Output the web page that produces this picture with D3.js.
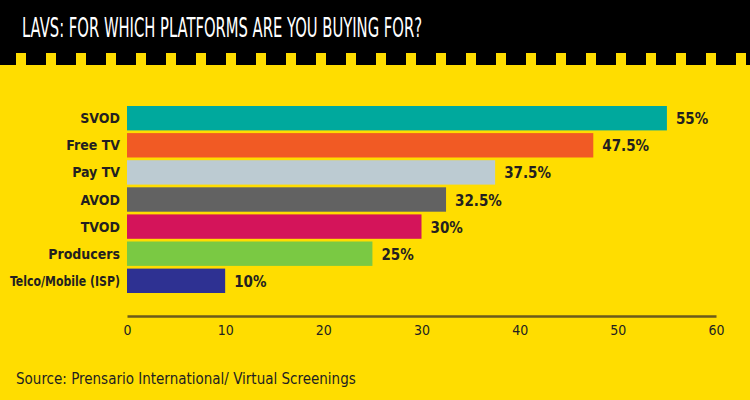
<!DOCTYPE html>
<html><head><meta charset="utf-8">
<script src="https://cdn.jsdelivr.net/npm/d3@7"></script>
<style>body{margin:0;background:#ffdd00}svg{display:block}</style>
</head><body><svg></svg>
<script>
// chart data
const categories = ["SVOD", "Free TV", "Pay TV", "AVOD", "TVOD", "Producers", "Telco/Mobile (ISP)"];
const values = [55, 47.5, 37.5, 32.5, 30, 25, 10];
const colors = ["#00a99d", "#f15a24", "#bccbd2", "#626262", "#d4145a", "#7ac943", "#2e3192"];
const ticks = [0, 10, 20, 30, 40, 50, 60];

const width = 750, height = 400;
const font = "'DejaVu Sans Condensed', 'Liberation Sans Narrow', sans-serif";
const svg = d3.select("svg").attr("width", width).attr("height", height);

// squeeze a text horizontally if it runs wider than max
function fit(sel, max) {
    sel.each(function () {
        if (this.getComputedTextLength() > max) {
            d3.select(this).attr("textLength", max).attr("lengthAdjust", "spacingAndGlyphs");
        }
    });
}

svg.append("rect").attr("width", width).attr("height", height).attr("fill", "#ffdd00");
// header with crenellated edge
svg.append("rect").attr("width", width).attr("height", 65).attr("fill", "#000");
svg.selectAll("rect.tooth")
    .data(d3.range(16, width, 30))
    .enter().append("rect")
    .attr("class", "tooth")
    .attr("x", d => d).attr("y", 53)
    .attr("width", 10).attr("height", 12)
    .attr("fill", "#ffdd00");
svg.append("text")
    .attr("x", 22).attr("y", 37)
    .attr("fill", "#fff")
    .attr("font-family", font)
    .attr("font-size", 26)
    .attr("textLength", 400)
    .attr("lengthAdjust", "spacingAndGlyphs")
    .text("LAVS: FOR WHICH PLATFORMS ARE YOU BUYING FOR?");

const x = d3.scaleLinear().domain([0, 60]).range([127, 716]);
const y = d3.scaleBand().domain(categories).range([106, 293]).paddingInner(0.1);

svg.selectAll("rect.bar")
    .data(categories)
    .enter().append("rect")
    .attr("class", "bar")
    .attr("x", x(0))
    .attr("y", d => y(d))
    .attr("width", (d, i) => x(values[i]) - x(0))
    .attr("height", y.bandwidth())
    .attr("fill", (d, i) => colors[i]);

svg.selectAll("text.cat")
    .data(categories)
    .enter().append("text")
    .attr("class", "cat")
    .attr("x", 120)
    .attr("y", d => y(d) + y.bandwidth() / 2 + 5)
    .attr("text-anchor", "end")
    .attr("font-family", font).attr("font-weight", "bold").attr("font-size", 14)
    .attr("fill", "#231f20")
    .text(d => d)
    .call(fit, 110);

svg.selectAll("text.val")
    .data(categories)
    .enter().append("text")
    .attr("class", "val")
    .attr("x", (d, i) => x(values[i]) + 9)
    .attr("y", d => y(d) + y.bandwidth() / 2 + 6)
    .attr("font-family", font).attr("font-weight", "bold").attr("font-size", 15)
    .attr("fill", "#231f20")
    .text((d, i) => values[i] + "%");

const axis = svg.append("g")
    .attr("transform", "translate(0,316)")
    .call(d3.axisBottom(x).tickValues(ticks).tickSize(0).tickPadding(9));
axis.select(".domain").attr("stroke", "#6b5a1a").attr("stroke-width", 2.5);
axis.selectAll("text")
    .attr("font-family", font).attr("font-size", 14).attr("fill", "#231f20");

svg.append("text")
    .attr("x", 16).attr("y", 384)
    .attr("font-family", font).attr("font-size", 15)
    .attr("fill", "#231f20")
    .text("Source: Prensario International/ Virtual Screenings")
    .call(fit, 345);
</script>
</body></html>
